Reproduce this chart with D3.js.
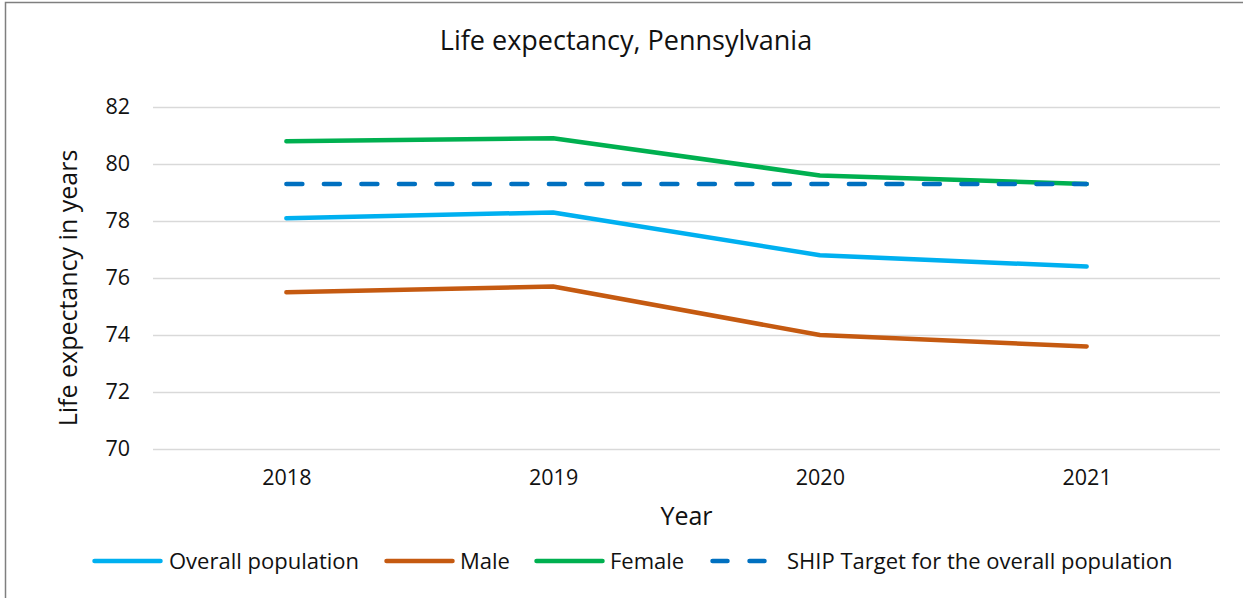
<!DOCTYPE html>
<html>
<head>
<meta charset="utf-8">
<script src="https://cdn.jsdelivr.net/npm/d3@7"></script>
<style>
  body { margin: 0; background: #fff; }
  svg { display: block; font-family: "Open Sans", sans-serif; }
</style>
</head>
<body>
<div id="chart"></div>
<script>
const years = ['2018', '2019', '2020', '2021'];
const overall = [78.1, 78.3, 76.8, 76.4];
const male = [75.5, 75.7, 74.0, 73.6];
const female = [80.8, 80.9, 79.6, 79.3];
const shipTarget = [79.3, 79.3, 79.3, 79.3];
const yTicks = [70, 72, 74, 76, 78, 80, 82];

const series = [
  { name: 'Overall population', values: overall, colour: '#00b0f0', dashed: false },
  { name: 'Male', values: male, colour: '#c55a11', dashed: false },
  { name: 'Female', values: female, colour: '#00b050', dashed: false },
  { name: 'SHIP Target for the overall population', values: shipTarget, colour: '#0070c0', dashed: true }
];

const width = 1243, height = 598;
const margin = { top: 107, right: 23, bottom: 149, left: 153 };
const innerW = width - margin.left - margin.right;
const innerH = height - margin.top - margin.bottom;

const svg = d3.select('#chart').append('svg')
  .attr('width', width)
  .attr('height', height);

// Outer frame (top and left edges visible)
svg.append('path')
  .attr('d', `M5.5,${height} V2.5 H${width}`)
  .attr('fill', 'none')
  .attr('stroke', '#7f7f7f')
  .attr('stroke-width', 1.5);

svg.append('text')
  .attr('x', 626)
  .attr('y', 50)
  .attr('text-anchor', 'middle')
  .attr('font-size', 27)
  .attr('fill', '#111')
  .text('Life expectancy, Pennsylvania');

const chart = svg.append('g')
  .attr('transform', `translate(${margin.left},${margin.top})`);

const x = d3.scalePoint().domain(years).range([0, innerW]).padding(0.5);
const y = d3.scaleLinear().domain([70, 82]).range([innerH, 0]);

// Gridlines
chart.append('g')
  .call(d3.axisLeft(y).tickValues(yTicks).tickSize(-innerW).tickFormat(''))
  .call(g => g.select('.domain').remove())
  .call(g => g.selectAll('line').attr('stroke', '#d9d9d9').attr('stroke-width', 1.5));

// Y tick labels
chart.append('g')
  .call(d3.axisLeft(y).tickValues(yTicks).tickSize(0).tickPadding(23))
  .call(g => g.select('.domain').remove())
  .call(g => g.selectAll('text')
    .attr('font-size', 21.5)
    .attr('font-family', '"Open Sans", sans-serif')
    .attr('fill', '#111'));

// X tick labels
chart.append('g')
  .attr('transform', `translate(0,${innerH})`)
  .call(d3.axisBottom(x).tickSize(0).tickPadding(21))
  .call(g => g.select('.domain').remove())
  .call(g => g.selectAll('text')
    .attr('font-size', 21.5)
    .attr('font-family', '"Open Sans", sans-serif')
    .attr('fill', '#111'));

// Axis titles
svg.append('text')
  .attr('x', margin.left + innerW / 2)
  .attr('y', 525)
  .attr('text-anchor', 'middle')
  .attr('font-size', 25)
  .attr('fill', '#111')
  .text('Year');

svg.append('text')
  .attr('transform', `translate(77,${margin.top + innerH / 2 + 10}) rotate(-90)`)
  .attr('text-anchor', 'middle')
  .attr('font-size', 25)
  .attr('fill', '#111')
  .text('Life expectancy in years');

// Lines
const line = d3.line()
  .x((d, i) => x(years[i]))
  .y(d => y(d));

chart.selectAll('.series')
  .data(series)
  .join('path')
    .attr('class', 'series')
    .attr('d', d => line(d.values))
    .attr('fill', 'none')
    .attr('stroke', d => d.colour)
    .attr('stroke-width', 4.5)
    .attr('stroke-linecap', 'round')
    .attr('stroke-linejoin', 'round')
    .attr('stroke-dasharray', d => d.dashed ? '16,21.5' : null);

// Legend
const legendX = [92, 384, 534, 710];
const legendTextX = [77, 76, 76, 77];
const legend = svg.append('g')
  .attr('transform', 'translate(0,561)');

const items = legend.selectAll('.legend-item')
  .data(series)
  .join('g')
    .attr('class', 'legend-item')
    .attr('transform', (d, i) => `translate(${legendX[i]},0)`);

items.append('line')
  .attr('x1', 2.5)
  .attr('x2', d => d.dashed ? 54.5 : 68.5)
  .attr('stroke', d => d.colour)
  .attr('stroke-width', 4.5)
  .attr('stroke-linecap', 'round')
  .attr('stroke-dasharray', d => d.dashed ? '15,22' : null);

items.append('text')
  .attr('x', (d, i) => legendTextX[i])
  .attr('dy', '0.35em')
  .attr('font-size', 22)
  .attr('fill', '#111')
  .text(d => d.name);
</script>
</body>
</html>
